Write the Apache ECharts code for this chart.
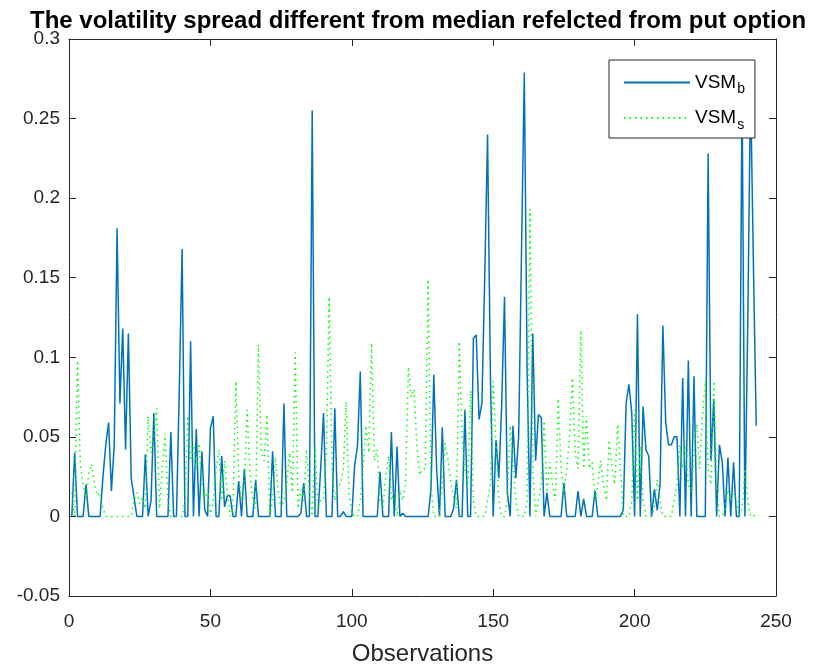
<!DOCTYPE html>
<html>
<head>
<meta charset="utf-8">
<title>VSM put option</title>
<script src="https://cdn.jsdelivr.net/npm/echarts@6/dist/echarts.min.js"></script>
<style>
  html, body { margin: 0; padding: 0; background: #fff; }
  #chart { width: 820px; height: 671px; }
</style>
</head>
<body>
<div id="chart"></div>
<script>
var vsmB = [
  0, 0.040, 0, 0, 0, 0.020, 0, 0, 0, 0,
  0, 0.025, 0.045, 0.059, 0.016, 0.045, 0.181, 0.071, 0.118, 0.042,
  0.115, 0.024, 0.012, 0, 0, 0, 0.039, 0, 0.010, 0.065,
  0, 0, 0, 0, 0, 0.053, 0, 0, 0.080, 0.168,
  0, 0, 0.110, 0, 0.055, 0, 0.041, 0.004, 0, 0.055,
  0.063, 0, 0, 0.038, 0.006, 0.013, 0.013, 0, 0, 0.022,
  0, 0.030, 0, 0, 0, 0.023, 0, 0, 0, 0,
  0, 0.041, 0, 0, 0, 0.071, 0, 0, 0, 0,
  0, 0.002, 0.021, 0, 0, 0.255, 0, 0, 0.030, 0.065,
  0, 0, 0, 0.068, 0, 0, 0.003, 0, 0, 0,
  0.032, 0.044, 0.091, 0, 0, 0, 0, 0, 0, 0.028,
  0, 0, 0, 0.053, 0, 0.044, 0, 0.002, 0, 0,
  0, 0, 0, 0, 0, 0, 0, 0.017, 0.089, 0.030,
  0, 0.056, 0, 0, 0, 0.005, 0.023, 0, 0, 0.067,
  0, 0, 0.112, 0.114, 0.061, 0.071, 0.150, 0.240, 0.090, 0,
  0.048, 0.024, 0.070, 0.138, 0.015, 0, 0.057, 0.024, 0.050, 0.165,
  0.279, 0.090, 0, 0.115, 0.035, 0.064, 0.062, 0, 0.015, 0,
  0, 0, 0, 0, 0.021, 0, 0, 0, 0, 0.016,
  0, 0.011, 0, 0, 0, 0.016, 0, 0, 0, 0,
  0, 0, 0, 0, 0, 0.004, 0.071, 0.083, 0.065, 0,
  0.127, 0, 0.069, 0.042, 0.038, 0, 0.017, 0.004, 0.020, 0.120,
  0.059, 0.045, 0.045, 0.050, 0.050, 0, 0.087, 0, 0.098, 0,
  0.088, 0, 0, 0, 0, 0.228, 0.035, 0.074, 0, 0.045,
  0.034, 0, 0.037, 0, 0.034, 0, 0, 0.270, 0, 0.120,
  0.270, 0.160, 0.057
];
var vsmS = [
  0.015, 0, 0.098, 0.033, 0.020, 0.012, 0.027, 0.033, 0.020, 0.013,
  0.015, 0.005, 0, 0, 0, 0, 0, 0, 0, 0,
  0, 0, 0.010, 0.015, 0.008, 0.012, 0.005, 0.063, 0.040, 0.050,
  0.068, 0.005, 0.030, 0.052, 0.010, 0, 0, 0, 0, 0,
  0.010, 0.063, 0.035, 0.045, 0.030, 0.046, 0.020, 0.010, 0.017, 0,
  0.010, 0.030, 0.042, 0.010, 0.035, 0.015, 0, 0.005, 0.085, 0.027,
  0.010, 0.020, 0.067, 0.027, 0.010, 0.005, 0.108, 0.040, 0.035, 0.064,
  0, 0.010, 0.037, 0.015, 0.005, 0.010, 0.020, 0.040, 0.015, 0.103,
  0.005, 0.017, 0.010, 0.042, 0.015, 0, 0.044, 0.005, 0.010, 0.010,
  0.040, 0.138, 0.030, 0.010, 0.020, 0.020, 0.030, 0.072, 0.015, 0.002,
  0, 0, 0.010, 0.030, 0.057, 0.040, 0.109, 0.035, 0.042, 0.010,
  0.005, 0.025, 0.038, 0.010, 0.015, 0, 0.017, 0.010, 0.020, 0.094,
  0.075, 0.080, 0.045, 0.026, 0.030, 0.030, 0.149, 0.020, 0, 0,
  0, 0.020, 0.046, 0.036, 0.022, 0.012, 0.005, 0.110, 0.050, 0.030,
  0.020, 0.079, 0.010, 0, 0, 0, 0, 0.010, 0.020, 0.085,
  0.045, 0.010, 0, 0, 0.010, 0.057, 0.035, 0.010, 0, 0,
  0, 0.010, 0.193, 0.030, 0, 0.010, 0.020, 0.060, 0.015, 0.034,
  0.020, 0.010, 0.074, 0.030, 0.015, 0.030, 0.050, 0.087, 0.040, 0.030,
  0.117, 0.030, 0.063, 0.030, 0.034, 0.010, 0.020, 0.035, 0.020, 0.010,
  0.048, 0.030, 0.020, 0.058, 0.030, 0, 0, 0, 0.010, 0.067,
  0.010, 0.044, 0.010, 0, 0, 0, 0.005, 0.023, 0.010, 0,
  0, 0, 0, 0.010, 0.020, 0.045, 0.030, 0.044, 0.020, 0.015,
  0.040, 0.058, 0.030, 0.064, 0.085, 0.030, 0.020, 0.085, 0.020, 0,
  0, 0.005, 0.017, 0.010, 0.015, 0.010, 0, 0.005, 0.030, 0.010,
  0, 0, 0.003
];
var seriesNames = ["VSM_b", "VSM_s"];
var xTicks = [0, 50, 100, 150, 200, 250];
var yTicks = [-0.05, 0, 0.05, 0.1, 0.15, 0.2, 0.25, 0.3];

var obs = vsmB.map(function (v, i) { return i + 1; });
var font = "Liberation Sans, Arial, Helvetica, sans-serif";
var axisColor = "#262626";

var chart = echarts.init(document.getElementById("chart"));

function boxAxis(pos, isX) {
  var ax = {
    type: "value",
    position: pos,
    min: isX ? xTicks[0] : yTicks[0],
    max: isX ? xTicks[xTicks.length - 1] : yTicks[yTicks.length - 1],
    interval: isX ? 50 : 0.05,
    splitLine: { show: false },
    axisLine: { show: true, onZero: false, lineStyle: { color: axisColor, width: 1 } },
    axisTick: { show: true, inside: true, length: 7, lineStyle: { color: axisColor } },
    axisLabel: { show: false }
  };
  return ax;
}

var xMain = boxAxis("bottom", true);
xMain.axisLabel = { show: true, color: axisColor, fontSize: 19, fontFamily: font, margin: 16 };
xMain.name = "Observations";
xMain.nameLocation = "middle";
xMain.nameGap = 46;
xMain.nameTextStyle = { color: axisColor, fontSize: 24, fontFamily: font };

var yMain = boxAxis("left", false);
yMain.axisLabel = { show: true, color: axisColor, fontSize: 19, fontFamily: font, margin: 9 };

var option = {
  animation: false,
  backgroundColor: "#fff",
  title: {
    text: "The volatility spread different from median refelcted from put option",
    left: 25,
    top: 4,
    textStyle: { color: "#000", fontSize: 24, fontWeight: "bold", fontFamily: font }
  },
  grid: { left: 69, right: 44, top: 39, bottom: 74, containLabel: false },
  legend: {
    orient: "vertical",
    left: 609,
    top: 60,
    padding: [13, 10, 6, 14],
    itemGap: 12,
    itemWidth: 66,
    itemHeight: 14,
    borderColor: axisColor,
    borderWidth: 1,
    backgroundColor: "#fff",
    itemStyle: { opacity: 0 },
    data: seriesNames,
    formatter: function (name) {
      return "{m|VSM}{s|" + name.split("_")[1] + "}";
    },
    textStyle: {
      color: "#000",
      fontFamily: font,
      rich: {
        m: { fontSize: 19, fontFamily: font, color: "#000" },
        s: { fontSize: 14, fontFamily: font, color: "#000", padding: [14, 0, 0, 1] }
      }
    }
  },
  xAxis: [xMain, boxAxis("top", true)],
  yAxis: [yMain, boxAxis("right", false)],
  series: [
    {
      name: seriesNames[0],
      type: "line",
      xAxisIndex: 0,
      yAxisIndex: 0,
      symbol: "none",
      showSymbol: false,
      lineStyle: { color: "#0072BD", width: 1.5 },
      itemStyle: { color: "#0072BD" },
      data: obs.map(function (x, i) { return [x, vsmB[i]]; }),
      z: 2
    },
    {
      name: seriesNames[1],
      type: "line",
      xAxisIndex: 0,
      yAxisIndex: 0,
      symbol: "none",
      showSymbol: false,
      lineStyle: { color: "#00FF00", width: 1.5, type: [1.5, 4] },
      itemStyle: { color: "#00FF00" },
      data: obs.map(function (x, i) { return [x, vsmS[i]]; }),
      z: 3
    }
  ]
};

chart.setOption(option);
window.addEventListener("resize", chart.resize);
</script>
</body>
</html>
